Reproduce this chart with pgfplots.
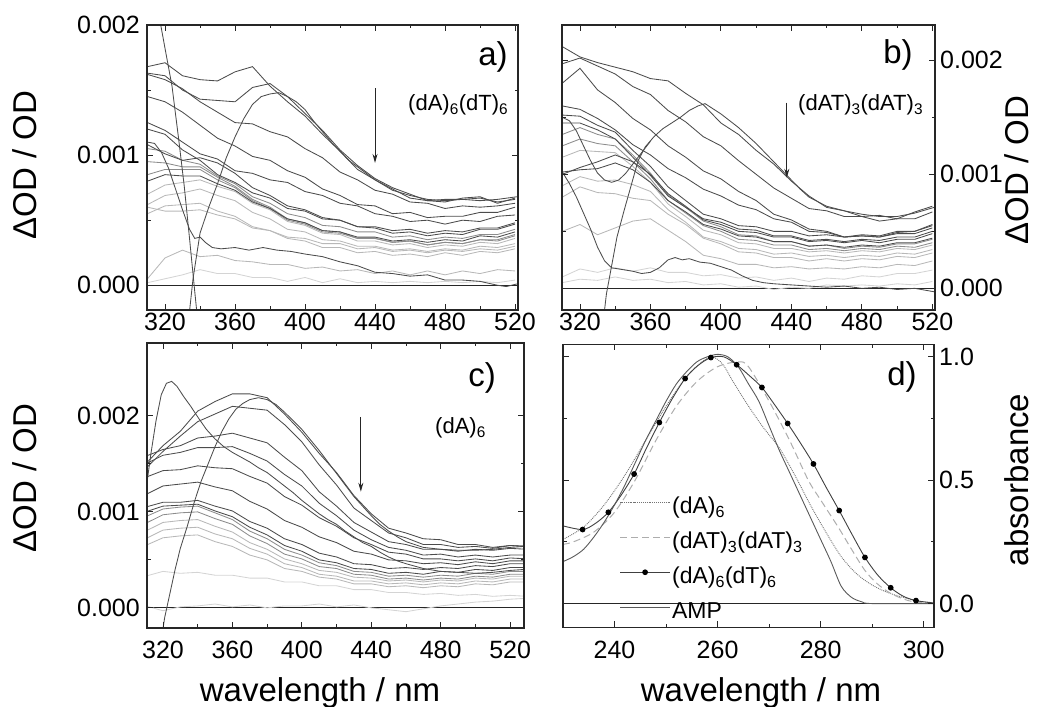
\documentclass[border=0pt]{standalone}
\usepackage{fontspec}
\setmainfont{Liberation Sans}
\usepackage{pgfplots}
\usepackage{pgfplotstable}
\pgfplotsset{compat=1.18}
\usetikzlibrary{arrows.meta}

\pgfplotstableread{
x a1 a2 a3 a4 a5 a6 a7 a8 l1 l2 l3 l4 l5 l6 l7 l8 l9
310 1.68 1.63 1.62 1.45 1.25 1.20 1.08 0.80 1.05 0.95 0.70 0.62 0.55 0.05 0.02 0.60 0.85
320 1.71 1.61 1.58 1.41 1.19 1.16 1.01 0.85 1.03 0.94 0.77 0.69 0.61 0.21 0.05 0.57 0.89
330 1.61 1.50 1.51 1.33 1.10 1.04 0.96 0.84 0.96 0.91 0.79 0.71 0.62 0.27 0.08 0.57 0.89
340 1.58 1.43 1.41 1.23 1.01 0.96 0.98 0.84 0.93 0.91 0.81 0.74 0.63 0.22 0.12 0.58 0.89
350 1.57 1.42 1.33 1.13 0.97 0.85 0.94 0.78 0.84 0.83 0.76 0.69 0.57 0.23 0.09 0.54 0.81
360 1.64 1.41 1.25 1.07 0.88 0.79 0.86 0.73 0.78 0.76 0.72 0.65 0.53 0.19 0.09 0.51 0.75
370 1.68 1.52 1.24 0.99 0.86 0.71 0.75 0.64 0.68 0.66 0.63 0.56 0.45 0.18 0.06 0.44 0.65
380 1.53 1.55 1.18 0.96 0.81 0.67 0.69 0.59 0.63 0.60 0.58 0.51 0.42 0.16 0.06 0.42 0.59
390 1.41 1.45 1.14 0.88 0.79 0.59 0.61 0.51 0.55 0.51 0.49 0.43 0.36 0.16 0.03 0.37 0.50
400 1.30 1.32 1.05 0.83 0.72 0.57 0.58 0.48 0.52 0.48 0.46 0.41 0.34 0.13 0.06 0.36 0.47
410 1.16 1.19 0.98 0.74 0.69 0.51 0.52 0.42 0.46 0.42 0.40 0.35 0.29 0.14 0.02 0.32 0.41
420 1.03 1.04 0.87 0.69 0.63 0.50 0.50 0.41 0.45 0.41 0.39 0.34 0.29 0.11 0.05 0.32 0.40
430 0.89 0.92 0.81 0.62 0.61 0.45 0.45 0.37 0.41 0.36 0.34 0.30 0.25 0.12 0.02 0.28 0.36
440 0.81 0.82 0.73 0.61 0.55 0.45 0.44 0.37 0.41 0.36 0.34 0.30 0.26 0.09 0.03 0.29 0.36
450 0.74 0.75 0.70 0.55 0.53 0.42 0.40 0.34 0.37 0.33 0.31 0.27 0.23 0.11 0.02 0.26 0.33
460 0.67 0.70 0.64 0.56 0.49 0.43 0.41 0.35 0.38 0.34 0.32 0.28 0.24 0.08 0.03 0.27 0.34
470 0.65 0.65 0.63 0.52 0.50 0.40 0.38 0.33 0.35 0.31 0.29 0.26 0.22 0.11 0.02 0.25 0.31
480 0.64 0.66 0.59 0.53 0.47 0.42 0.40 0.35 0.37 0.33 0.31 0.28 0.25 0.08 0.03 0.27 0.33
490 0.67 0.66 0.61 0.53 0.50 0.41 0.39 0.34 0.36 0.32 0.30 0.27 0.23 0.11 0.02 0.26 0.32
500 0.68 0.67 0.60 0.56 0.49 0.44 0.43 0.38 0.39 0.35 0.33 0.30 0.26 0.09 0.03 0.28 0.35
510 0.63 0.64 0.61 0.56 0.53 0.44 0.43 0.37 0.39 0.35 0.32 0.29 0.25 0.12 0.02 0.27 0.34
520 0.67 0.66 0.63 0.60 0.54 0.48 0.47 0.41 0.43 0.39 0.36 0.32 0.28 0.11 0.04 0.30 0.38
}\tabA

\pgfplotstableread{
x b1 b2 b3 b4 b5 b6 b7 b8 m1 m2 m3 m4 m5 m6 m7 m8
310 2.12 1.97 1.80 1.60 1.52 1.45 1.02 1.00 1.35 1.25 1.15 0.90 0.50 0.10 0.05 0.80
320 2.03 2.02 1.93 1.57 1.51 1.45 1.04 1.06 1.41 1.31 1.21 0.98 0.56 0.17 0.08 0.89
330 1.98 1.95 1.74 1.49 1.43 1.39 1.05 1.11 1.35 1.27 1.20 0.94 0.47 0.14 0.07 0.84
340 1.94 1.88 1.63 1.39 1.37 1.31 1.10 1.17 1.31 1.25 1.19 0.95 0.53 0.18 0.10 0.83
350 1.90 1.77 1.49 1.26 1.21 1.15 1.04 1.11 1.17 1.11 1.07 0.91 0.59 0.15 0.07 0.79
360 1.84 1.70 1.39 1.17 1.07 0.99 0.93 1.00 1.01 0.96 0.93 0.85 0.61 0.18 0.08 0.77
370 1.82 1.56 1.25 1.05 0.89 0.81 0.77 0.83 0.82 0.77 0.74 0.69 0.51 0.14 0.05 0.65
380 1.71 1.46 1.15 0.97 0.77 0.71 0.67 0.72 0.71 0.66 0.63 0.58 0.41 0.14 0.06 0.56
390 1.61 1.33 1.03 0.87 0.65 0.61 0.56 0.60 0.59 0.55 0.51 0.45 0.29 0.11 0.03 0.44
400 1.45 1.25 0.96 0.81 0.61 0.58 0.52 0.56 0.54 0.50 0.47 0.41 0.26 0.12 0.04 0.39
410 1.35 1.12 0.85 0.73 0.55 0.52 0.46 0.50 0.47 0.43 0.40 0.35 0.21 0.09 0.01 0.32
420 1.21 1.00 0.77 0.69 0.54 0.51 0.45 0.49 0.46 0.42 0.39 0.34 0.21 0.10 0.02 0.31
430 1.09 0.88 0.65 0.61 0.50 0.46 0.41 0.45 0.41 0.38 0.35 0.30 0.18 0.07 -0.01 0.27
440 0.94 0.79 0.60 0.58 0.50 0.46 0.41 0.45 0.41 0.38 0.35 0.31 0.19 0.09 0.01 0.27
450 0.81 0.70 0.52 0.50 0.46 0.42 0.37 0.41 0.37 0.34 0.32 0.28 0.17 0.06 0.00 0.24
460 0.71 0.68 0.50 0.49 0.47 0.43 0.38 0.42 0.38 0.35 0.33 0.29 0.18 0.09 0.03 0.26
470 0.68 0.63 0.45 0.45 0.45 0.41 0.36 0.40 0.35 0.33 0.31 0.27 0.17 0.08 0.02 0.24
480 0.63 0.63 0.46 0.46 0.47 0.43 0.38 0.42 0.37 0.35 0.33 0.29 0.19 0.11 0.03 0.26
490 0.64 0.59 0.45 0.45 0.46 0.42 0.37 0.40 0.36 0.34 0.32 0.28 0.18 0.10 0.02 0.25
500 0.61 0.61 0.49 0.48 0.50 0.45 0.40 0.43 0.39 0.37 0.35 0.31 0.21 0.13 0.04 0.28
510 0.67 0.61 0.50 0.48 0.50 0.45 0.40 0.43 0.39 0.36 0.34 0.30 0.20 0.13 0.03 0.27
520 0.72 0.67 0.56 0.53 0.55 0.50 0.44 0.48 0.43 0.40 0.38 0.34 0.24 0.16 0.06 0.31
}\tabB

\pgfplotstableread{
x t1 t2 t3 t4 t5 t6 k1 k2 n1 n2 n3 n4 n5 n6 n7
310 1.50 1.45 1.58 1.50 1.36 1.18 1.05 1.00 0.95 0.88 0.80 0.72 0.65 0.33 0.02
320 1.69 1.63 1.65 1.59 1.43 1.27 1.10 1.06 1.03 0.97 0.89 0.81 0.73 0.38 -0.03
330 1.84 1.79 1.69 1.62 1.44 1.29 1.10 1.07 1.05 0.99 0.91 0.83 0.75 0.36 0.01
340 2.05 1.94 1.77 1.67 1.48 1.31 1.12 1.08 1.06 1.00 0.92 0.84 0.76 0.37 0.02
350 2.15 2.02 1.79 1.67 1.46 1.26 1.06 1.01 0.99 0.93 0.85 0.77 0.69 0.34 0.04
360 2.23 2.10 1.82 1.68 1.45 1.22 1.01 0.95 0.92 0.87 0.79 0.72 0.64 0.34 0.01
370 2.23 2.08 1.77 1.61 1.37 1.11 0.90 0.84 0.80 0.75 0.68 0.62 0.55 0.31 0.03
380 2.19 2.06 1.72 1.53 1.30 1.03 0.83 0.76 0.72 0.67 0.61 0.56 0.50 0.31 0.00
390 2.02 1.91 1.57 1.39 1.16 0.91 0.72 0.65 0.61 0.56 0.51 0.46 0.41 0.27 0.02
400 1.83 1.73 1.43 1.27 1.07 0.84 0.66 0.59 0.55 0.51 0.46 0.42 0.38 0.27 0.02
410 1.61 1.49 1.21 1.09 0.94 0.74 0.57 0.50 0.47 0.43 0.39 0.35 0.32 0.23 0.04
420 1.41 1.28 1.06 0.96 0.85 0.68 0.53 0.47 0.44 0.41 0.37 0.33 0.30 0.23 0.01
430 1.17 1.04 0.89 0.81 0.73 0.59 0.46 0.41 0.38 0.35 0.32 0.28 0.25 0.19 0.03
440 0.98 0.91 0.79 0.71 0.66 0.56 0.45 0.40 0.37 0.34 0.31 0.28 0.25 0.19 0.00
450 0.83 0.78 0.69 0.63 0.58 0.50 0.41 0.36 0.33 0.30 0.28 0.25 0.22 0.16 -0.02
460 0.78 0.73 0.66 0.60 0.56 0.49 0.42 0.37 0.34 0.31 0.29 0.26 0.23 0.16 -0.04
470 0.72 0.66 0.61 0.55 0.51 0.46 0.40 0.35 0.32 0.29 0.27 0.24 0.21 0.14 -0.01
480 0.71 0.66 0.61 0.56 0.51 0.47 0.42 0.38 0.34 0.31 0.29 0.26 0.23 0.15 0.02
490 0.66 0.63 0.59 0.53 0.49 0.45 0.41 0.37 0.33 0.30 0.28 0.25 0.22 0.13 0.04
500 0.66 0.64 0.61 0.55 0.51 0.48 0.44 0.40 0.36 0.33 0.31 0.28 0.25 0.14 0.06
510 0.63 0.62 0.60 0.53 0.49 0.46 0.43 0.39 0.35 0.32 0.30 0.27 0.24 0.12 0.07
520 0.65 0.65 0.62 0.55 0.52 0.49 0.46 0.42 0.38 0.35 0.33 0.30 0.27 0.13 0.09
530 0.64 0.64 0.61 0.55 0.51 0.49 0.46 0.42 0.38 0.35 0.33 0.30 0.27 0.12 0.10
}\tabC

\pgfplotsset{
  panel/.style={
    scale only axis, anchor=south west, axis on top,
    axis line style={black!85, line width=1.1pt},
    tick align=inside, major tick length=6pt, minor tick length=3.5pt,
    every tick/.style={black!85, line width=0.9pt},
    tick label style={font=\fontsize{25}{28}\selectfont},
    /pgf/number format/assume math mode=true,
    xticklabel style={inner sep=1pt, yshift=-2pt},
  },
  lowx/.style={xticklabel style={inner sep=1pt, yshift=-10pt}},
  leftlab/.style={yticklabel style={inner sep=0pt, xshift=-7pt}},
  rightlab/.style={yticklabel pos=right, yticklabel style={inner sep=0pt, xshift=5pt}},
  dk/.style={black!70, line width=0.85pt},
  md/.style={black!45, line width=0.85pt},
  lt/.style={black!28, line width=0.85pt},
  vl/.style={black!17, line width=0.85pt},
  zero/.style={black!85, line width=1.3pt, forget plot},
}

\begin{document}
\begin{tikzpicture}
\path[use as bounding box] (0pt,0pt) rectangle (1042pt,707pt);

% ---------------- a) ----------------
\begin{axis}[panel, leftlab, at={(147pt,397pt)}, width=371pt, height=285pt,
  xmin=309.7, xmax=521.7, ymin=-0.19, ymax=2.0,
  xtick={320,360,...,520}, minor x tick num=1,
  ytick={0,1,2}, yticklabels={0.000,0.001,0.002}, minor y tick num=1]
\addplot[zero] coordinates {(300,0) (540,0)};
\foreach \c in {l7} {\addplot[vl] table[x=x,y=\c] {\tabA};}
\foreach \c in {l6,l5,l4,l3,l8} {\addplot[lt] table[x=x,y=\c] {\tabA};}
\foreach \c in {l2,l9,l1} {\addplot[md] table[x=x,y=\c] {\tabA};}
\foreach \c in {a8,a7,a6,a5,a4,a3,a2,a1} {\addplot[dk] table[x=x,y=\c] {\tabA};}
\addplot[dk] coordinates {(313,2.35) (317,2.04) (320,1.82) (324,1.53) (328,1.10) (331,0.76) (334,0.36) (337,-0.05) (340,-0.45)};
\addplot[dk] coordinates {(310,1.10) (314,1.09) (318,1.02) (322,0.90) (326,0.74) (330,0.58) (334,0.43) (337,0.36) (340,0.37) (343,0.33) (347,0.29) (352,0.28) (360,0.29) (368,0.27) (376,0.29) (384,0.27) (392,0.26) (400,0.24) (410,0.22) (420,0.18) (430,0.15) (440,0.10) (450,0.09) (460,0.07) (470,0.08) (480,0.04) (490,0.04) (500,0.03) (510,0.00) (515,-0.01) (521,0.01)};
\addplot[dk] coordinates {(332,-0.45) (336,0.05) (340,0.40) (345,0.60) (350,0.78) (355,0.98) (360,1.14) (365,1.28) (370,1.39) (375,1.45) (380,1.47) (385,1.48) (390,1.45) (395,1.41) (400,1.35) (405,1.26) (410,1.18) (415,1.10) (420,1.03) (425,0.96) (430,0.91) (435,0.86) (440,0.81) (445,0.77) (450,0.73) (460,0.69) (470,0.66) (480,0.65) (490,0.66) (500,0.65) (510,0.66) (521,0.68)};
\draw[black!85, line width=1pt, -{Stealth[length=9pt,width=5pt]}] (axis cs:440,1.515) -- (axis cs:440,0.94);
\end{axis}

% ---------------- b) ----------------
\begin{axis}[panel, rightlab, at={(562pt,397pt)}, width=373pt, height=285pt,
  xmin=309.8, xmax=521.5, ymin=-0.19, ymax=2.31,
  xtick={320,360,...,520}, minor x tick num=1,
  ytick={0,1,2}, yticklabels={0.000,0.001,0.002}, minor y tick num=1]
\addplot[zero] coordinates {(300,0) (540,0)};
\foreach \c in {m7,m6} {\addplot[vl] table[x=x,y=\c] {\tabB};}
\foreach \c in {m5,m4,m8,m3} {\addplot[lt] table[x=x,y=\c] {\tabB};}
\foreach \c in {m2,m1} {\addplot[md] table[x=x,y=\c] {\tabB};}
\foreach \c in {b8,b7,b6,b5,b4,b3,b2,b1} {\addplot[dk] table[x=x,y=\c] {\tabB};}
\addplot[dk] coordinates {(310,1.02) (314,0.92) (318,0.80) (322,0.66) (326,0.52) (330,0.36) (334,0.24) (338,0.18) (342,0.17) (346,0.16) (350,0.15) (355,0.13) (360,0.14) (365,0.18) (370,0.25) (374,0.27) (378,0.25) (382,0.26) (388,0.23) (394,0.22) (400,0.19) (406,0.16) (412,0.11) (418,0.07) (424,0.05) (430,0.04) (440,0.03) (450,0.02) (460,0.01) (470,0.02) (480,0.00) (490,0.01) (500,-0.01) (510,0.00) (521,-0.03)};
\addplot[dk] coordinates {(310,1.50) (314,1.47) (318,1.38) (322,1.25) (326,1.12) (330,1.01) (334,0.95) (338,0.93) (342,0.95) (346,1.01) (350,1.09) (354,1.17) (358,1.25) (360,1.29)};
\addplot[dk] coordinates {(332,-0.45) (335,-0.05) (338,0.20) (341,0.45) (345,0.68) (349,0.90) (353,1.12) (357,1.24) (362,1.33) (367,1.40) (372,1.45) (377,1.50) (382,1.56) (387,1.60) (391,1.62) (395,1.58) (400,1.53) (405,1.47) (410,1.41) (415,1.34) (420,1.27) (425,1.19) (430,1.11) (435,1.03) (440,0.95) (445,0.87) (450,0.80) (455,0.76) (460,0.72) (470,0.68) (480,0.65) (490,0.63) (500,0.63) (510,0.66) (521,0.71)};
\draw[black!85, line width=1pt, -{Stealth[length=9pt,width=5pt]}] (axis cs:437.4,1.63) -- (axis cs:437.4,0.97);
\end{axis}

% ---------------- c) ----------------
\begin{axis}[panel, lowx, leftlab, at={(147pt,79pt)}, width=377pt, height=285pt,
  xmin=310.8, xmax=528, ymin=-0.21, ymax=2.76,
  xtick={320,360,...,520}, minor x tick num=1,
  ytick={0,1,2}, yticklabels={0.000,0.001,0.002}, minor y tick num=1]
\addplot[zero] coordinates {(300,0) (540,0)};
\foreach \c in {n7,n6} {\addplot[vl] table[x=x,y=\c] {\tabC};}
\foreach \c in {n5,n4,n3} {\addplot[lt] table[x=x,y=\c] {\tabC};}
\foreach \c in {n2,n1} {\addplot[md] table[x=x,y=\c] {\tabC};}
\foreach \c in {k2,k1,t6,t5,t4,t3,t2,t1} {\addplot[dk] table[x=x,y=\c] {\tabC};}
\addplot[dk] coordinates {(310,1.20) (313,1.60) (316,1.95) (319,2.22) (322,2.34) (325,2.36) (328,2.31) (332,2.20) (336,2.10) (340,1.99) (345,1.86) (350,1.76) (355,1.68) (360,1.62) (365,1.57) (370,1.52) (375,1.46) (380,1.41) (385,1.34) (390,1.27) (395,1.20) (400,1.12) (405,1.05) (410,0.98) (415,0.92) (420,0.87) (425,0.80) (430,0.74) (435,0.68) (440,0.64) (445,0.58) (450,0.53) (455,0.49) (460,0.46) (470,0.41) (480,0.38) (490,0.37) (500,0.36) (510,0.37) (520,0.39) (528,0.40)};
\addplot[dk] coordinates {(318,-0.45) (321,-0.10) (324,0.15) (327,0.40) (330,0.62) (334,0.85) (338,1.10) (342,1.32) (346,1.50) (350,1.68) (354,1.84) (358,1.97) (362,2.07) (366,2.13) (370,2.17) (375,2.19) (380,2.17) (385,2.12) (390,2.04) (395,1.95) (400,1.86) (405,1.75) (410,1.64) (415,1.52) (420,1.40) (425,1.28) (430,1.16) (435,1.06) (440,0.96) (445,0.87) (450,0.80) (455,0.74) (460,0.69) (470,0.63) (480,0.61) (490,0.60) (500,0.60) (510,0.61) (520,0.63) (528,0.64)};
\draw[black!85, line width=1pt, -{Stealth[length=9pt,width=5pt]}] (axis cs:434,1.99) -- (axis cs:434,1.21);
\end{axis}

% ---------------- d) ----------------
\begin{axis}[panel, lowx, rightlab, at={(563pt,79.5pt)}, width=371pt, height=283pt,
  xmin=230, xmax=302, ymin=-0.097, ymax=1.05,
  xtick={240,260,280,300}, minor x tick num=1,
  ytick={0,0.5,1}, yticklabels={0.0,0.5,1.0}, minor y tick num=1,
  legend style={at={(0.152,0.468)}, anchor=north west, draw=none, fill=none,
    font=\fontsize{23}{26}\selectfont, row sep=9pt, inner sep=0pt,
    nodes={inner sep=1.5pt, text height=17pt, text depth=6pt}},
  legend cell align=left,
  legend image code/.code={\draw[mark repeat=2,mark phase=2,#1] plot coordinates {(0pt,6pt) (25pt,6pt) (50pt,6pt)};}]
\addplot[zero] coordinates {(220,0) (310,0)};
\addplot[black!55, line width=0.9pt, densely dotted, smooth] coordinates {(230,0.26) (234,0.31) (238,0.40) (242,0.52) (246,0.66) (250,0.80) (254,0.92) (257,0.98) (259,1.0) (261,0.97) (263,0.90) (266,0.80) (269,0.71) (272,0.63) (275,0.52) (278,0.40) (281,0.29) (284,0.19) (287,0.12) (290,0.075) (293,0.045) (296,0.025) (299,0.01) (302,0.003)};
\addlegendentry{(dA)\textsubscript{6}}
\addplot[black!32, line width=1pt, dash pattern=on 7pt off 4pt, smooth] coordinates {(230,0.24) (232,0.25) (236,0.29) (240,0.37) (244,0.50) (248,0.66) (252,0.80) (256,0.90) (260,0.96) (264,0.98) (266,0.96) (270,0.82) (274,0.66) (277.6,0.50) (280,0.42) (283.4,0.31) (286,0.22) (288.6,0.134) (291,0.08) (293.7,0.04) (297,0.012) (300,0.003) (302,0)};
\addlegendentry{(dAT)\textsubscript{3}(dAT)\textsubscript{3}}
\addplot[black!75, line width=0.9pt, smooth, mark=*, mark size=2.4pt, mark options={solid, fill=black, draw=black}, mark repeat=2, mark phase=2] coordinates {(230,0.315) (233.8,0.30) (236.3,0.325) (238.8,0.37) (241.3,0.44) (243.8,0.525) (246.2,0.63) (248.7,0.734) (251.2,0.83) (253.7,0.912) (256.2,0.965) (258.7,0.997) (261.2,1.0) (263.7,0.968) (266.1,0.925) (268.6,0.876) (271.1,0.805) (273.6,0.73) (276.1,0.65) (278.6,0.566) (281.1,0.47) (283.6,0.377) (286.1,0.28) (288.6,0.187) (291.1,0.115) (293.6,0.064) (296,0.03) (298.5,0.012) (302,0.002)};
\addlegendentry{(dA)\textsubscript{6}(dT)\textsubscript{6}}
\addplot[black!65, line width=0.9pt, smooth] coordinates {(230,0.17) (232,0.19) (234,0.22) (236,0.27) (238,0.33) (240,0.40) (242,0.48) (244,0.57) (246,0.66) (248,0.74) (250,0.82) (252,0.89) (254,0.94) (256,0.98) (258,1.0) (260,1.01) (262,1.0) (264,0.96) (266,0.89) (268,0.82) (270,0.72) (272,0.62) (274,0.53) (276,0.44) (278,0.35) (280,0.26) (282,0.17) (284,0.07) (286,0.025) (288,0.007) (290,0) (302,0)};
\addlegendentry{AMP}
\end{axis}

% ---------------- texts ----------------
\node[font=\fontsize{33}{36}\selectfont, inner sep=0pt] at (493pt,650pt) {a)};
\node[font=\fontsize{33}{36}\selectfont, inner sep=0pt] at (898pt,652pt) {b)};
\node[font=\fontsize{33}{36}\selectfont, inner sep=0pt] at (482pt,329pt) {c)};
\node[font=\fontsize{33}{36}\selectfont, inner sep=0pt] at (902pt,330pt) {d)};

\node[font=\fontsize{22}{24}\selectfont, inner sep=0pt, anchor=base west] at (408pt,596pt) {(dA)\textsubscript{6}(dT)\textsubscript{6}};
\node[font=\fontsize{22}{24}\selectfont, inner sep=0pt, anchor=base west] at (798pt,596pt) {(dAT)\textsubscript{3}(dAT)\textsubscript{3}};
\node[font=\fontsize{22}{24}\selectfont, inner sep=0pt, anchor=base west] at (435pt,273pt) {(dA)\textsubscript{6}};

\node[font=\fontsize{33}{36}\selectfont, rotate=90, inner sep=0pt] at (25pt,542pt) {ΔOD / OD};
\node[font=\fontsize{33}{36}\selectfont, rotate=90, inner sep=0pt] at (25pt,229pt) {ΔOD / OD};
\node[font=\fontsize{33}{36}\selectfont, rotate=90, inner sep=0pt] at (1017pt,537pt) {ΔOD / OD};
\node[font=\fontsize{33}{36}\selectfont, rotate=90, inner sep=0pt] at (1017pt,227pt) {absorbance};
\node[font=\fontsize{33}{36}\selectfont, inner sep=0pt, anchor=base] at (320pt,5pt) {wavelength / nm};
\node[font=\fontsize{33}{36}\selectfont, inner sep=0pt, anchor=base] at (761pt,5pt) {wavelength / nm};
\end{tikzpicture}
\end{document}
